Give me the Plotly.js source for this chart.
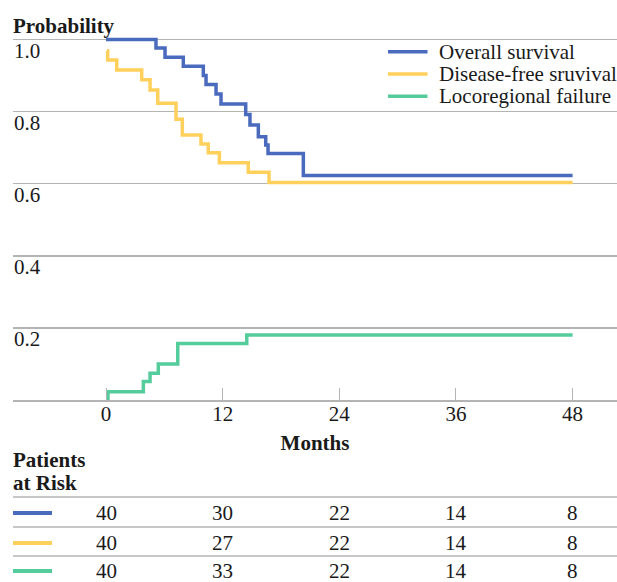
<!DOCTYPE html>
<html>
<head>
<meta charset="utf-8">
<script src="https://cdn.plot.ly/plotly-3.0.1.min.js"></script>
<style>html,body{margin:0;padding:0;background:#fff;}</style>
</head>
<body>
<div id="chart" style="width:617px;height:582px;"></div>
<script>
// ---- data ----
const seriesNames = ["Overall survival", "Disease-free sruvival", "Locoregional failure"];
const seriesColors = ["#4a6abd", "#ffd05c", "#55cc9c"];

const osMonths = [0, 5.14, 6.07, 7.95, 10.01, 10.29, 11.32, 11.83, 14.37, 14.81, 15.67, 16.43, 16.67, 20.3, 48];
const osProb   = [1.0, 0.976, 0.951, 0.926, 0.900, 0.875, 0.849, 0.821, 0.792, 0.763, 0.730, 0.707, 0.684, 0.623, 0.623];

const dfsMonths = [0.1, 0.17, 1.10, 3.67, 4.53, 5.32, 7.20, 7.85, 9.77, 10.52, 11.66, 14.64, 16.77, 48];
const dfsProb   = [0.969, 0.943, 0.915, 0.888, 0.860, 0.823, 0.779, 0.735, 0.710, 0.686, 0.658, 0.632, 0.603, 0.603];

const lrfMonths = [0.2, 0.2, 3.84, 4.53, 5.38, 7.38, 14.48, 48];
const lrfProb   = [0, 0.023, 0.051, 0.074, 0.100, 0.157, 0.180, 0.180];

const tickMonths = [0, 12, 24, 36, 48];
const probTicks = [0.2, 0.4, 0.6, 0.8, 1.0];
const probTickText = ["0.2", "0.4", "0.6", "0.8", "1.0"];

const riskOS  = [40, 30, 22, 14, 8];
const riskDFS = [40, 27, 22, 14, 8];
const riskLRF = [40, 33, 22, 14, 8];

// ---- helpers (pixel -> paper) ----
const W = 617, H = 582;
const M = {l: 13, r: 0, t: 20, b: 182};
const PW = W - M.l - M.r, PH = H - M.t - M.b;
const px = x => (x - M.l) / PW;
const py = y => (H - M.b - y) / PH;

const FONT = "'Liberation Serif', 'Times New Roman', serif";
const TXT = "#1a1a1a";
const GRID = "#b4b4b4";

const traces = [
  {x: osMonths, y: osProb, name: seriesNames[0]},
  {x: dfsMonths, y: dfsProb, name: seriesNames[1]},
  {x: lrfMonths, y: lrfProb, name: seriesNames[2]}
].map((t, i) => Object.assign(t, {
  type: "scatter", mode: "lines",
  line: {shape: "hv", color: seriesColors[i], width: 3.5},
  hoverinfo: "skip", showlegend: false
}));

const shapes = [];
const annotations = [];

// Manual legend
const legendY = [51.7, 74, 96.3];
seriesNames.forEach((n, i) => {
  shapes.push({type: "line", xref: "paper", yref: "paper",
    x0: px(388), x1: px(427.5), y0: py(legendY[i]), y1: py(legendY[i]),
    line: {color: seriesColors[i], width: 3.6}});
  annotations.push({xref: "paper", yref: "paper", x: px(437), y: py(legendY[i]),
    xanchor: "left", yanchor: "middle", showarrow: false, text: n,
    font: {family: FONT, size: 21, color: TXT}});
});

// Y-axis heading
annotations.push({xref: "paper", yref: "paper", x: px(11), y: py(26),
  xanchor: "left", yanchor: "middle", showarrow: false, text: "<b>Probability</b>",
  font: {family: FONT, size: 21, color: TXT}});

// Risk table
annotations.push({xref: "paper", yref: "paper", x: px(11), y: py(460),
  xanchor: "left", yanchor: "middle", showarrow: false, text: "<b>Patients</b>",
  font: {family: FONT, size: 21, color: TXT}});
annotations.push({xref: "paper", yref: "paper", x: px(11), y: py(483),
  xanchor: "left", yanchor: "middle", showarrow: false, text: "<b>at Risk</b>",
  font: {family: FONT, size: 21, color: TXT}});

[497, 527, 556].forEach(y => shapes.push({type: "line", xref: "paper", yref: "paper",
  x0: 0, x1: 1, y0: py(y), y1: py(y), line: {color: GRID, width: 1.5}}));

const riskRows = [riskOS, riskDFS, riskLRF];
const rowY = [513, 543, 571];
riskRows.forEach((row, i) => {
  shapes.push({type: "line", xref: "paper", yref: "paper",
    x0: px(13), x1: px(52), y0: py([513, 543, 571][i]), y1: py([513, 543, 571][i]),
    line: {color: seriesColors[i], width: 4}});
  row.forEach((v, j) => annotations.push({xref: "x", yref: "paper",
    x: tickMonths[j], y: py(rowY[i]), xanchor: "center", yanchor: "middle",
    showarrow: false, borderpad: 0, text: String(v), font: {family: FONT, size: 21, color: TXT}}));
});

const layout = {
  width: W, height: H,
  margin: {l: M.l, r: M.r, t: M.t, b: M.b, pad: 0},
  paper_bgcolor: "#fff", plot_bgcolor: "#fff",
  showlegend: false,
  font: {family: FONT, size: 21, color: TXT},
  xaxis: {
    range: [-9.57, 52.57], tickvals: tickMonths, ticktext: tickMonths.map(String),
    ticks: "inside", ticklen: 12, tickwidth: 1, tickcolor: GRID,
    showline: true, linecolor: GRID, linewidth: 1.5,
    showgrid: false, zeroline: false, fixedrange: true,
    ticklabelstandoff: -6,
    tickfont: {family: FONT, size: 21, color: TXT},
    title: {text: "<b>Months</b>", font: {family: FONT, size: 21, color: TXT}, standoff: 10}
  },
  yaxis: {
    range: [0, 1.054], tickvals: probTicks, ticktext: probTickText,
    ticks: "", showgrid: true, gridcolor: GRID, gridwidth: 1.5,
    zeroline: false, showline: false, fixedrange: true,
    ticklabelposition: "inside bottom", ticklabelstandoff: -2, ticklabelshift: -4,
    tickfont: {family: FONT, size: 21, color: TXT}
  },
  shapes: shapes,
  annotations: annotations
};

Plotly.newPlot("chart", traces, layout, {displayModeBar: false, staticPlot: true});
</script>
</body>
</html>
